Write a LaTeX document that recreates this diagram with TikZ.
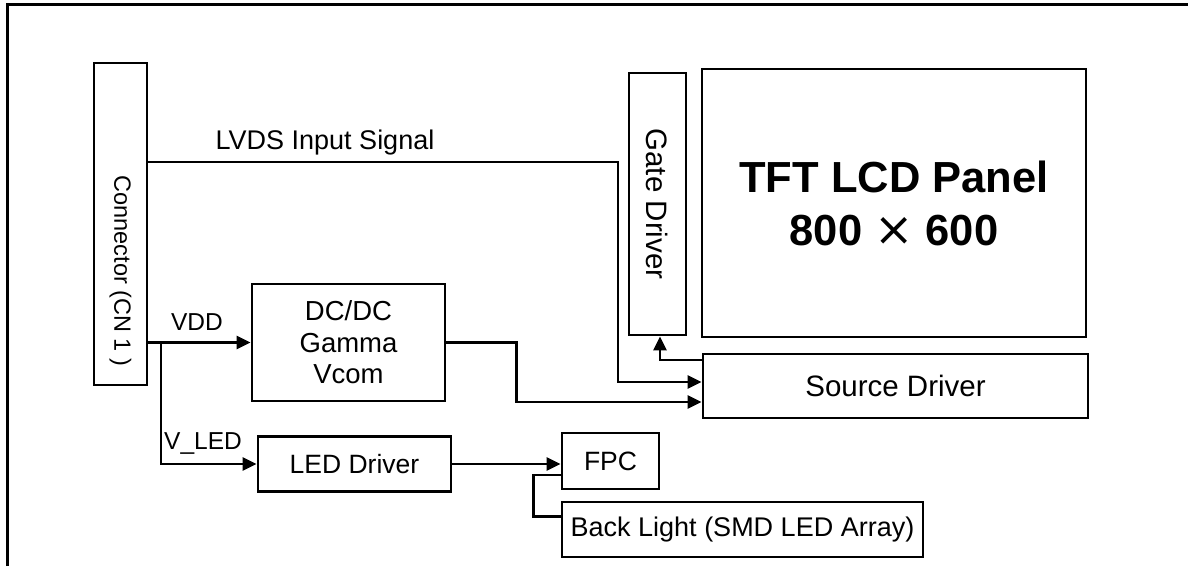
\documentclass[tikz,border=0pt]{standalone}
\usepackage{fontspec}
\setmainfont{Liberation Sans}
\newfontfamily\dejavufont{DejaVu Sans}
\usetikzlibrary{arrows.meta}
\begin{document}
\begin{tikzpicture}[x=1pt,y=-1pt,
  box/.style={draw=black, line width=2.8pt, inner sep=0pt, align=center},
  txt/.style={font=\fontsize{26.5}{31.5}\selectfont, inner sep=0pt, align=center},
  lbl/.style={font=\fontsize{24.5}{28}\selectfont, inner sep=0pt},
  wire/.style={line width=2.6pt, black},
  arr/.style={wire, -{Triangle[length=14pt,width=13pt]}}]
\useasboundingbox (0,0) rectangle (1188,566);
% frame
\draw[line width=3pt] (7,566) -- (7,4.5) -- (1188,4.5);
% boxes
\node[box, minimum width=53pt, minimum height=322pt] (conn) at (120.5,224) {};
\node[txt, rotate=-90, font=\fontsize{23.5}{28}\selectfont] (conntxt) at (120.5,271) {Connector (CN 1 )};
\node[box, minimum width=57pt, minimum height=262pt] (gate) at (657.5,204) {};
\node[txt, rotate=-90, font=\fontsize{29.5}{34}\selectfont] (gatetxt) at (gate.center) {Gate Driver};
\node[box, minimum width=384pt, minimum height=268pt, font=\bfseries\fontsize{43.5}{53}\selectfont] (tft) at (894,203) {TFT LCD Panel\\800 {\dejavufont\mdseries\fontsize{47}{53}\selectfont ×} 600};
\node[box, minimum width=385pt, minimum height=64pt, font=\fontsize{29.5}{34}\selectfont] (src) at (895.5,386) {Source Driver};
\node[box, txt, minimum width=193pt, minimum height=117pt, font=\fontsize{27.5}{31.5}\selectfont] (dcdc) at (348.5,342.5) {DC/DC\\Gamma\\Vcom};
\node[box, txt, minimum width=193pt, minimum height=55pt] (led) at (354.5,464) {LED Driver};
\node[box, txt, minimum width=97pt, minimum height=56pt] (fpc) at (610.5,461) {FPC};
\node[box, txt, minimum width=361pt, minimum height=55pt, font=\fontsize{27}{32}\selectfont] (bl) at (742.5,529.5) {Back Light (SMD LED Array)};
% labels
\node[lbl, font=\fontsize{27}{30}\selectfont] (lvdslbl) at (325,143) {LVDS Input Signal};
\node[lbl] (vddlbl) at (197,322) {VDD};
\node[lbl] (vledlbl) at (203,443) {V\_LED};
% connectors
\coordinate (lv) at (618,162);
\draw[arr] (conn.east |- lv) -- (lv) |- ([yshift=4pt]src.west);
\draw[arr] (conn.east |- dcdc.west) -- (dcdc.west);
\coordinate (j) at (161,342.5);
\draw[arr] (j) |- (led.west);
\draw[arr] (led.east) -- (led.east -| fpc.west);
\draw[wire] ([yshift=-14pt]fpc.west) -- ++(-27,0) |- ([yshift=13pt]bl.west);
\draw[arr] (dcdc.east) -- ++(70,0) |- ([yshift=-16pt]src.west);
\draw[arr] ([yshift=26pt]src.west) -| ([xshift=2.5pt]gate.south);
\end{tikzpicture}
\end{document}
